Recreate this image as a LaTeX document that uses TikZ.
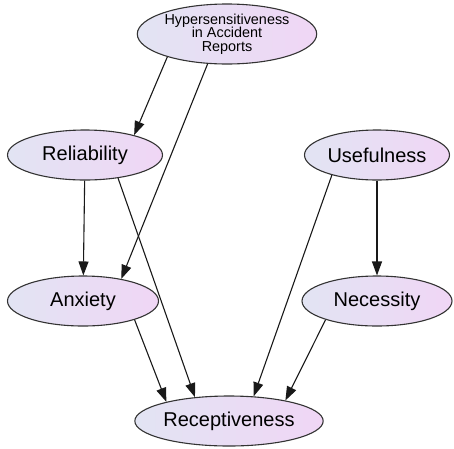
\documentclass[tikz,border=0pt]{standalone}
\usepackage{fontspec}
\setmainfont{Liberation Sans}
\usetikzlibrary{arrows.meta,shapes.geometric}
\definecolor{varleft}{RGB}{226,228,243}
\definecolor{varright}{RGB}{240,214,245}
\begin{document}
\begin{tikzpicture}[x=1pt,y=-1pt,
var/.style={%
ellipse,
draw=black!80,
line width=1.1pt,
left color=varleft,
right color=varright,
inner sep=1pt,
minimum height=50pt,
font=\fontsize{20}{22}\selectfont
},
link/.style={%
draw=black!90,
line width=1.1pt,
-{Triangle[length=14pt,width=10pt]}
},
]
\useasboundingbox(0,0)rectangle(454,448);
%% nodes
\node[var,minimum width=162pt,minimum height=58pt,align=center,
font=\fontsize{14.4}{13.5}\selectfont](hyp)at(227,34){Hypersensitiveness\\in Accident\\Reports};
\node[var,minimum width=155pt](rel)at(85,155){Reliability};
\node[var,minimum width=145pt](use)at(377,155){Usefulness};
\node[var,minimum width=151pt](anx)at(83,301){Anxiety};
\node[var,minimum width=150pt](nec)at(377,301){Necessity};
\node[var,minimum width=152pt](rec)at(229,421){Receptiveness};
%% links
\draw[link](hyp.201)--(rel.22);
\draw[link](hyp.237)--(anx.30);
\draw[link](rel)--(anx);
\draw[link](rel.-35)--(rec.145);
\draw[link](anx.-20)--(rec.163);
\draw[link](use.204)--(rec.45);
\draw[link](use)--(nec);
\draw[link](nec.200)--(rec.20);
\end{tikzpicture}
\end{document}
